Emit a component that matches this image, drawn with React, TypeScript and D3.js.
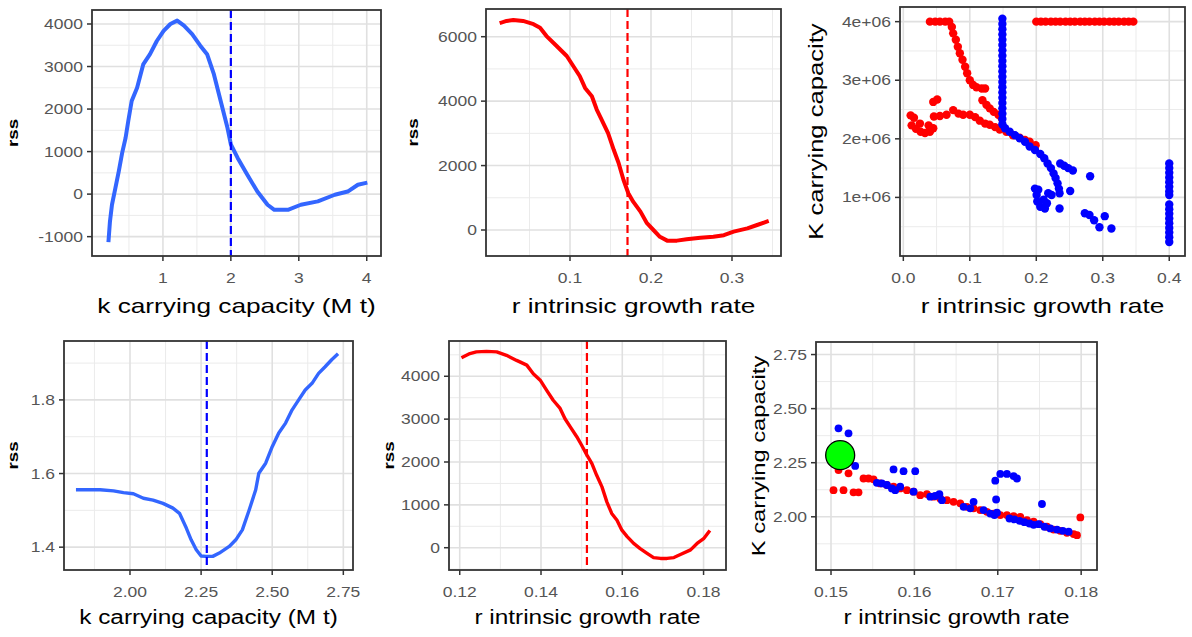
import React from 'react'
import * as d3 from 'd3'

// ---- panel 1: rss profile over k (M t)
const kGrid1 = [0.20, 0.22, 0.25, 0.30, 0.35, 0.40, 0.45, 0.49, 0.54, 0.62, 0.71, 0.81, 0.91, 1.01, 1.11, 1.21, 1.31, 1.43, 1.55, 1.65, 1.75, 1.85, 1.95, 2.00, 2.10, 2.24, 2.39, 2.54, 2.64, 2.84, 3.03, 3.28, 3.53, 3.72, 3.87, 3.98]
const rssK1 = [-1080, -650, -250, 140, 535, 970, 1320, 1720, 2190, 2500, 3050, 3290, 3600, 3840, 4000, 4080, 3960, 3760, 3490, 3290, 2820, 2190, 1560, 1170, 850, 460, 60, -250, -370, -370, -250, -170, -15, 60, 220, 260]
const kBest1 = 2.0

// ---- panel 2: rss profile over r
const rGrid2 = [0.0155, 0.0217, 0.030, 0.042, 0.055, 0.063, 0.071, 0.0835, 0.096, 0.104, 0.112, 0.1186, 0.127, 0.133, 0.139, 0.147, 0.154, 0.160, 0.166, 0.172, 0.178, 0.187, 0.195, 0.203, 0.211, 0.220, 0.232, 0.244, 0.261, 0.277, 0.290, 0.302, 0.319, 0.331, 0.343]
const rssR2 = [6440, 6490, 6520, 6490, 6390, 6280, 6020, 5710, 5400, 5090, 4780, 4410, 4150, 3740, 3430, 3010, 2490, 2080, 1560, 1140, 880, 570, 210, 0, -210, -330, -330, -290, -240, -210, -160, -50, 50, 155, 260]
const rBest2 = 0.171

// ---- panel 3: fitted r vs K (1e+06)
const redR3 = [0.040, 0.048, 0.055, 0.063, 0.069, 0.073, 0.075, 0.079, 0.082, 0.085, 0.089, 0.093, 0.096, 0.100, 0.105, 0.110, 0.118, 0.123,
  0.119, 0.125, 0.130, 0.136, 0.143, 0.148,
  0.011, 0.016, 0.0125, 0.019, 0.026, 0.0326, 0.040, 0.045, 0.025, 0.038,
  0.045, 0.051,
  0.046, 0.055, 0.065, 0.075, 0.083, 0.090, 0.100, 0.108, 0.115, 0.123, 0.130, 0.138, 0.145, 0.155, 0.165, 0.175, 0.183, 0.190, 0.199,
  0.200, 0.207, 0.214, 0.222, 0.229, 0.236, 0.244, 0.251, 0.258, 0.266, 0.273, 0.280, 0.288, 0.295, 0.302, 0.310, 0.317, 0.324, 0.332, 0.339, 0.346]
const redK3 = [4.0, 4.0, 4.0, 4.0, 4.0, 3.91, 3.80, 3.69, 3.57, 3.46, 3.35, 3.23, 3.12, 3.00, 2.92, 2.88, 2.86, 2.86,
  2.66, 2.58, 2.52, 2.46, 2.41, 2.35,
  2.40, 2.36, 2.23, 2.17, 2.12, 2.10, 2.12, 2.18, 2.26, 2.23,
  2.63, 2.67,
  2.38, 2.39, 2.41, 2.49, 2.43, 2.41, 2.41, 2.37, 2.31, 2.26, 2.24, 2.20, 2.16, 2.12, 2.06, 2.02, 1.98, 1.95, 1.89,
  4.0, 4.0, 4.0, 4.0, 4.0, 4.0, 4.0, 4.0, 4.0, 4.0, 4.0, 4.0, 4.0, 4.0, 4.0, 4.0, 4.0, 4.0, 4.0, 4.0, 4.0]
const blueR3 = [0.149, 0.149, 0.149, 0.149, 0.149, 0.149, 0.149, 0.149, 0.149, 0.149, 0.149, 0.149, 0.149, 0.149, 0.149, 0.149, 0.149, 0.149, 0.149, 0.149, 0.149,
  0.153, 0.160, 0.168, 0.175, 0.183, 0.190, 0.198, 0.206, 0.212, 0.217, 0.222, 0.226, 0.229, 0.232, 0.234, 0.235,
  0.198, 0.2005, 0.2015, 0.206, 0.211, 0.216, 0.218, 0.213, 0.223, 0.203,
  0.235, 0.236, 0.242, 0.248, 0.255, 0.251, 0.281,
  0.273, 0.280, 0.287, 0.295, 0.303, 0.313,
  0.40, 0.40, 0.40, 0.40, 0.40, 0.40, 0.40, 0.40,
  0.40, 0.40, 0.40, 0.40, 0.40, 0.40, 0.40, 0.40, 0.40]
const blueK3 = [4.05, 3.96, 3.87, 3.78, 3.69, 3.60, 3.51, 3.42, 3.33, 3.24, 3.15, 3.06, 2.97, 2.88, 2.79, 2.70, 2.61, 2.52, 2.43, 2.34, 2.25,
  2.18, 2.12, 2.06, 2.01, 1.95, 1.87, 1.81, 1.74, 1.67, 1.58, 1.50, 1.41, 1.33, 1.24, 1.15, 1.07,
  1.15, 1.04, 0.93, 0.84, 0.96, 0.90, 1.07, 0.81, 1.04, 1.13,
  0.81, 1.58, 1.54, 1.50, 1.46, 1.11, 1.36,
  0.73, 0.70, 0.61, 0.49, 0.68, 0.47,
  1.58, 1.50, 1.42, 1.34, 1.26, 1.18, 1.10, 1.04,
  0.88, 0.80, 0.72, 0.64, 0.56, 0.48, 0.40, 0.32, 0.24]

// ---- panel 4: rss profile over k, zoomed
const kGrid4 = [1.816, 1.849, 1.895, 1.942, 1.977, 2.012, 2.047, 2.081, 2.116, 2.151, 2.174, 2.198, 2.215, 2.233, 2.250, 2.267, 2.291, 2.314, 2.349, 2.372, 2.395, 2.419, 2.442, 2.453, 2.477, 2.500, 2.523, 2.547, 2.570, 2.593, 2.616, 2.640, 2.663, 2.686, 2.709, 2.727]
const rssK4 = [1.556, 1.556, 1.556, 1.553, 1.548, 1.545, 1.533, 1.528, 1.519, 1.506, 1.492, 1.452, 1.420, 1.393, 1.376, 1.375, 1.375, 1.384, 1.402, 1.420, 1.447, 1.501, 1.556, 1.601, 1.628, 1.673, 1.710, 1.737, 1.773, 1.800, 1.827, 1.845, 1.872, 1.890, 1.909, 1.922]
const kBest4 = 2.27

// ---- panel 5: rss profile over r, zoomed
const rGrid5 = [0.1208, 0.1225, 0.1241, 0.1266, 0.1291, 0.1315, 0.1340, 0.1365, 0.1381, 0.1398, 0.1414, 0.1430, 0.1447, 0.1459, 0.1472, 0.1488, 0.1500, 0.1513, 0.1525, 0.1537, 0.1550, 0.1562, 0.1574, 0.1587, 0.1599, 0.1612, 0.1628, 0.1644, 0.1661, 0.1677, 0.1694, 0.1710, 0.1727, 0.1743, 0.1768, 0.1784, 0.1801, 0.1813]
const rssR5 = [4450, 4530, 4570, 4580, 4570, 4490, 4370, 4260, 4060, 3910, 3670, 3440, 3250, 3010, 2820, 2590, 2390, 2160, 1970, 1690, 1420, 1070, 800, 640, 410, 260, 100, -20, -130, -230, -250, -250, -230, -160, -50, 100, 220, 370]
const rBest5 = 0.1513

// ---- panel 6: fitted r vs K, zoomed
const redR6 = [0.1503, 0.1515, 0.1527, 0.1533, 0.1509, 0.1521, 0.1539, 0.1545, 0.1551,
  0.1559, 0.1567, 0.1575, 0.1583, 0.1591, 0.1599, 0.1607, 0.1615, 0.1623, 0.1631, 0.1639, 0.1647, 0.1655, 0.1663, 0.1671, 0.1679, 0.1687, 0.1695, 0.1703, 0.1711, 0.1719, 0.1727, 0.1735, 0.1743, 0.1751, 0.1759, 0.1767, 0.1775, 0.1783, 0.1791, 0.1795, 0.1799]
const redK6 = [2.123, 2.123, 2.113, 2.113, 2.216, 2.201, 2.177, 2.177, 2.173,
  2.154, 2.147, 2.139, 2.131, 2.123, 2.116, 2.100, 2.105, 2.093, 2.085, 2.077, 2.069, 2.062, 2.046, 2.039, 2.031, 2.023, 2.015, 2.008, 2.008, 2.003, 2.000, 1.985, 1.977, 1.966, 1.954, 1.941, 1.935, 1.926, 1.920, 1.915, 1.997]
const blueR6 = [0.1509, 0.1521, 0.1529, 0.1555, 0.1561, 0.1567, 0.1573, 0.1577, 0.1583, 0.1575, 0.1587, 0.1601, 0.1599,
  0.1619, 0.1625, 0.1630, 0.1633, 0.1659, 0.1667, 0.1671, 0.1683, 0.1691, 0.1696, 0.1699, 0.1698,
  0.1697, 0.1703, 0.1711, 0.1719, 0.1723,
  0.1714, 0.1720, 0.1726, 0.1732, 0.1738, 0.1743, 0.1749, 0.1756, 0.1763, 0.1771, 0.1778, 0.1785, 0.1753]
const blueK6 = [2.409, 2.386, 2.235, 2.157, 2.154, 2.147, 2.131, 2.123, 2.139, 2.219, 2.211, 2.211, 2.116,
  2.093, 2.096, 2.105, 2.077, 2.046, 2.039, 2.069, 2.031, 2.015, 2.008, 2.019, 2.080,
  2.167, 2.198, 2.198, 2.188, 2.177,
  1.992, 1.988, 1.981, 1.975, 1.969, 1.963, 1.966, 1.954, 1.946, 1.941, 1.935, 1.931, 2.059]
const bestR6 = 0.1511
const bestK6 = 2.285

// ---- axis ticks
const xTicks1 = [1, 2, 3, 4]
const yTicks1 = [-1000, 0, 1000, 2000, 3000, 4000]
const xTicks2 = [0.1, 0.2, 0.3]
const yTicks2 = [0, 2000, 4000, 6000]
const xTicks3 = [0, 0.1, 0.2, 0.3, 0.4]
const xLabels3 = ['0.0', '0.1', '0.2', '0.3', '0.4']
const yTicks3 = [1, 2, 3, 4]
const yLabels3 = ['1e+06', '2e+06', '3e+06', '4e+06']
const xTicks4 = [2, 2.25, 2.5, 2.75]
const xLabels4 = ['2.00', '2.25', '2.50', '2.75']
const yTicks4 = [1.4, 1.6, 1.8]
const xTicks5 = [0.12, 0.14, 0.16, 0.18]
const yTicks5 = [0, 1000, 2000, 3000, 4000]
const xTicks6 = [0.15, 0.16, 0.17, 0.18]
const yTicks6 = [2, 2.25, 2.5, 2.75]
const yLabels6 = ['2.00', '2.25', '2.50', '2.75']

const FONT = '"Liberation Sans", Arial, sans-serif'
const STRETCH = 1.25
const BLUE_LINE = '#3366FF'
const RED = '#FF0000'
const BLUE = '#0000FF'

type Layer =
  | { kind: 'line'; xs: number[]; ys: number[]; color: string; width: number }
  | { kind: 'dots'; xs: number[]; ys: number[]; color: string; r: number }
  | { kind: 'vline'; x: number; color: string }
  | { kind: 'big'; x: number; y: number }

type PanelProps = {
  box: [number, number, number, number]
  xDomain: [number, number]
  yDomain: [number, number]
  xTicks: number[]
  xLabels?: string[]
  yTicks: number[]
  yLabels?: string[]
  xTitle: string
  yTitle: string
  yTitleX: number
  yTitleSize: number
  yTitleBold?: boolean
  titleSize: number
  layers: Layer[]
}

function minorBreaks(ticks: number[], domain: [number, number]) {
  const step = ticks[1] - ticks[0]
  const out: number[] = []
  for (let v = ticks[0] - step / 2; v <= domain[1]; v += step / 2) {
    if (v < domain[0]) continue
    if (ticks.some(t => Math.abs(t - v) < step * 1e-3)) continue
    out.push(v)
  }
  return out
}

function Panel(p: PanelProps) {
  const [x0, y0, x1, y1] = p.box
  const x = d3.scaleLinear().domain(p.xDomain).range([x0, x1])
  const y = d3.scaleLinear().domain(p.yDomain).range([y1, y0])
  const xMinor = minorBreaks(p.xTicks, p.xDomain)
  const yMinor = minorBreaks(p.yTicks, p.yDomain)
  const clipId = `clip-${x0}-${y0}`
  const line = d3.line<[number, number]>().x(d => x(d[0])).y(d => y(d[1]))

  return (
    <g>
      <defs>
        <clipPath id={clipId}>
          <rect x={x0} y={y0} width={x1 - x0} height={y1 - y0} />
        </clipPath>
      </defs>
      <rect x={x0} y={y0} width={x1 - x0} height={y1 - y0} fill="#fff" />
      {xMinor.map((v, i) => (
        <line key={'xm' + i} x1={x(v)} x2={x(v)} y1={y0} y2={y1} stroke="#EBEBEB" strokeWidth={1} />
      ))}
      {yMinor.map((v, i) => (
        <line key={'ym' + i} x1={x0} x2={x1} y1={y(v)} y2={y(v)} stroke="#EBEBEB" strokeWidth={1} />
      ))}
      {p.xTicks.map((v, i) => (
        <line key={'xg' + i} x1={x(v)} x2={x(v)} y1={y0} y2={y1} stroke="#E0E0E0" strokeWidth={1.6} />
      ))}
      {p.yTicks.map((v, i) => (
        <line key={'yg' + i} x1={x0} x2={x1} y1={y(v)} y2={y(v)} stroke="#E0E0E0" strokeWidth={1.6} />
      ))}
      <g clipPath={`url(#${clipId})`}>
        {p.layers.map((l, i) => {
          if (l.kind === 'line') {
            const pts = l.xs.map((v, j) => [v, l.ys[j]] as [number, number])
            return <path key={i} d={line(pts) || ''} fill="none" stroke={l.color} strokeWidth={l.width} strokeLinejoin="round" strokeLinecap="square" />
          }
          if (l.kind === 'dots') {
            return (
              <g key={i} fill={l.color}>
                {l.xs.map((v, j) => <circle key={j} cx={x(v)} cy={y(l.ys[j])} r={l.r} />)}
              </g>
            )
          }
          if (l.kind === 'vline') {
            return <line key={i} x1={x(l.x)} x2={x(l.x)} y1={y0} y2={y1} stroke={l.color} strokeWidth={2.2} strokeDasharray="8,4" />
          }
          return <circle key={i} cx={x(l.x)} cy={y(l.y)} r={14.5} fill="#00FF00" stroke="#000" strokeWidth={1.3} />
        })}
      </g>
      <rect x={x0} y={y0} width={x1 - x0} height={y1 - y0} fill="none" stroke="#333" strokeWidth={1.8} />
      {p.xTicks.map((v, i) => (
        <g key={'xt' + i}>
          <line x1={x(v)} x2={x(v)} y1={y1} y2={y1 + 5} stroke="#333" strokeWidth={1.5} />
          <text transform={`translate(${x(v)},${y1 + 27}) scale(${STRETCH},1)`} textAnchor="middle" fontSize={14} fill="#555" fontFamily={FONT}>
            {p.xLabels ? p.xLabels[i] : String(v)}
          </text>
        </g>
      ))}
      {p.yTicks.map((v, i) => (
        <g key={'yt' + i}>
          <line x1={x0 - 5} x2={x0} y1={y(v)} y2={y(v)} stroke="#333" strokeWidth={1.5} />
          <text transform={`translate(${x0 - 9},${y(v)}) scale(${STRETCH},1)`} textAnchor="end" dy="0.36em" fontSize={14} fill="#555" fontFamily={FONT}>
            {p.yLabels ? p.yLabels[i] : String(v)}
          </text>
        </g>
      ))}
      <text transform={`translate(${(x0 + x1) / 2},${y1 + (y0 < 100 ? 57 : 54)}) scale(${STRETCH},1)`} textAnchor="middle" fontSize={p.titleSize} fill="#000" fontFamily={FONT}>
        {p.xTitle}
      </text>
      <text transform={`translate(${p.yTitleX},${(y0 + y1) / 2}) rotate(-90) scale(${STRETCH},1)`} textAnchor="middle"
        fontSize={p.yTitleSize} fontWeight={p.yTitleBold ? 'bold' : 'normal'} fill="#000" fontFamily={FONT}>
        {p.yTitle}
      </text>
    </g>
  )
}

export default function App() {
  return (
    <svg width={1192} height={637} style={{ position: 'absolute', left: 0, top: 0, background: '#fff' }}>
      <Panel box={[92, 10, 381, 256]} xDomain={[-0.044, 4.21]} yDomain={[-1455, 4329]}
        xTicks={xTicks1} yTicks={yTicks1} xTitle="k carrying capacity (M t)" yTitle="rss" yTitleX={18} yTitleSize={15} yTitleBold titleSize={21}
        layers={[
          { kind: 'line', xs: kGrid1, ys: rssK1, color: BLUE_LINE, width: 4 },
          { kind: 'vline', x: kBest1, color: BLUE },
        ]} />
      <Panel box={[486, 9, 781, 256]} xDomain={[-0.0037, 0.3605]} yDomain={[-807, 6860]}
        xTicks={xTicks2} yTicks={yTicks2} xTitle="r intrinsic growth rate" yTitle="rss" yTitleX={418} yTitleSize={15} yTitleBold titleSize={21}
        layers={[
          { kind: 'line', xs: rGrid2, ys: rssR2, color: RED, width: 4 },
          { kind: 'vline', x: rBest2, color: RED },
        ]} />
      <Panel box={[900, 7, 1185, 256]} xDomain={[-0.005, 0.4237]} yDomain={[0, 4.25]}
        xTicks={xTicks3} xLabels={xLabels3} yTicks={yTicks3} yLabels={yLabels3}
        xTitle="r intrinsic growth rate" yTitle="K carrying capacity" yTitleX={823} yTitleSize={20.5} titleSize={21}
        layers={[
          { kind: 'dots', xs: redR3, ys: redK3, color: RED, r: 4.2 },
          { kind: 'dots', xs: blueR3, ys: blueK3, color: BLUE, r: 4.2 },
        ]} />
      <Panel box={[64, 341, 353, 570]} xDomain={[1.768, 2.784]} yDomain={[1.338, 1.96]}
        xTicks={xTicks4} xLabels={xLabels4} yTicks={yTicks4} xTitle="k carrying capacity (M t)" yTitle="rss" yTitleX={18} yTitleSize={15} yTitleBold titleSize={19.5}
        layers={[
          { kind: 'line', xs: kGrid4, ys: rssK4, color: BLUE_LINE, width: 3.4 },
          { kind: 'vline', x: kBest4, color: BLUE },
        ]} />
      <Panel box={[449, 341, 726, 570]} xDomain={[0.11736, 0.18552]} yDomain={[-520, 4823]}
        xTicks={xTicks5} yTicks={yTicks5} xTitle="r intrinsic growth rate" yTitle="rss" yTitleX={394} yTitleSize={15} yTitleBold titleSize={19.5}
        layers={[
          { kind: 'line', xs: rGrid5, ys: rssR5, color: RED, width: 3.4 },
          { kind: 'vline', x: rBest5, color: RED },
        ]} />
      <Panel box={[816, 342, 1097, 570]} xDomain={[0.1482, 0.1819]} yDomain={[1.754, 2.808]}
        xTicks={xTicks6} yTicks={yTicks6} yLabels={yLabels6}
        xTitle="r intrinsic growth rate" yTitle="K carrying capacity" yTitleX={765} yTitleSize={19} titleSize={19.5}
        layers={[
          { kind: 'dots', xs: redR6, ys: redK6, color: RED, r: 3.9 },
          { kind: 'dots', xs: blueR6, ys: blueK6, color: BLUE, r: 3.9 },
          { kind: 'big', x: bestR6, y: bestK6 },
        ]} />
    </svg>
  )
}
